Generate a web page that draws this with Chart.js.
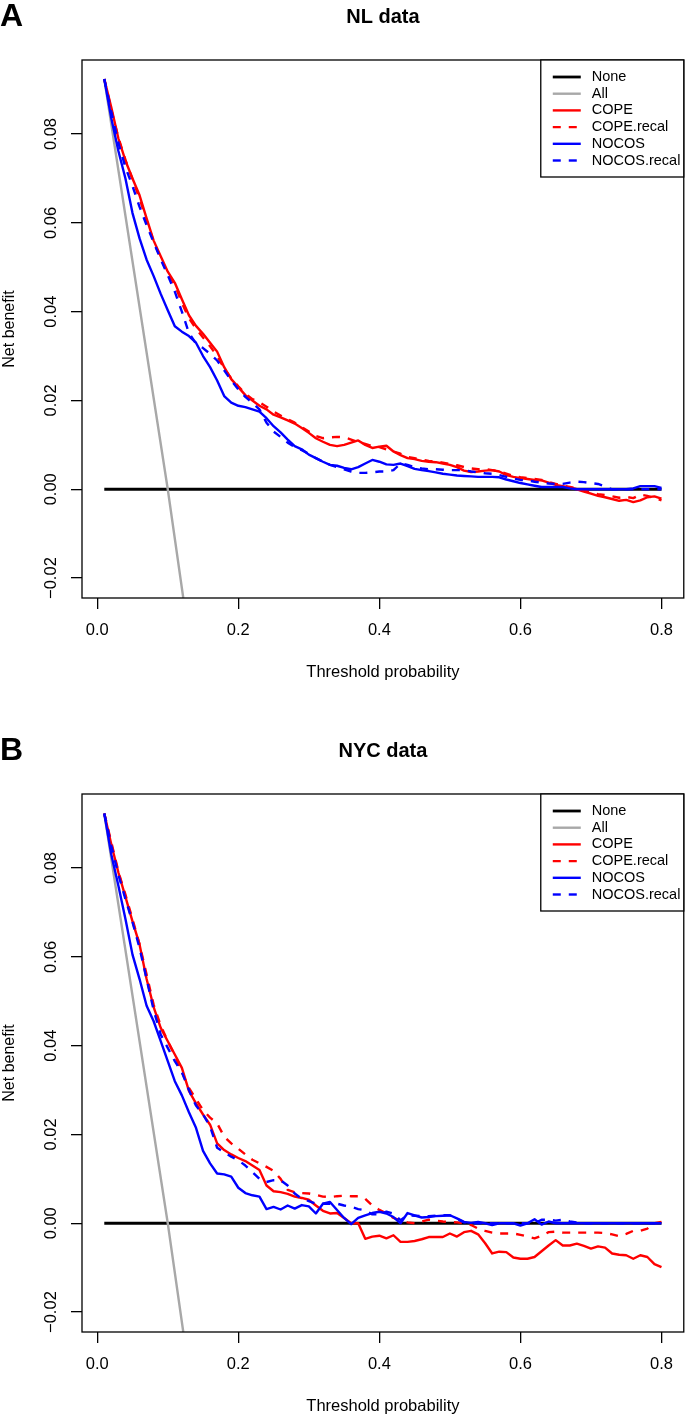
<!DOCTYPE html>
<html>
<head>
<meta charset="utf-8">
<title>Net benefit curves</title>
<script src="https://cdn.jsdelivr.net/npm/chart.js@4.4.0/dist/chart.umd.min.js"></script>
<style>
  body { margin: 0; background: #fff; }
  canvas { display: block; }
</style>
</head>
<body>
<canvas id="panelA" width="685" height="734"></canvas>
<canvas id="panelB" width="685" height="682"></canvas>
<script>
// threshold grid (x values of the model curves)
const thresholds = [0.01, 0.02, 0.03, 0.04, 0.05, 0.06, 0.07, 0.08, 0.09, 0.10,
  0.11, 0.12, 0.13, 0.14, 0.15, 0.16, 0.17, 0.18, 0.19, 0.20,
  0.21, 0.22, 0.23, 0.24, 0.25, 0.26, 0.27, 0.28, 0.29, 0.30,
  0.31, 0.32, 0.33, 0.34, 0.35, 0.36, 0.37, 0.38, 0.39, 0.40,
  0.41, 0.42, 0.43, 0.44, 0.45, 0.46, 0.47, 0.48, 0.49, 0.50,
  0.51, 0.52, 0.53, 0.54, 0.55, 0.56, 0.57, 0.58, 0.59, 0.60,
  0.61, 0.62, 0.63, 0.64, 0.65, 0.66, 0.67, 0.68, 0.69, 0.70,
  0.71, 0.72, 0.73, 0.74, 0.75, 0.76, 0.77, 0.78, 0.79, 0.80];

// reference strategies
const noneX = [0.01, 0.80];
const noneY = [0, 0];
const allX = [0.01, 0.10, 0.122];
const nlAll = [0.0924, 0.0, -0.0245];
const nycAll = [0.0923, 0.0, -0.0245];

// NL data
const nlCope = [0.0924, 0.0860, 0.0790, 0.0740, 0.0700, 0.0662, 0.0610, 0.0560, 0.0525, 0.0490,
  0.0465, 0.0428, 0.0392, 0.0368, 0.0350, 0.0330, 0.0310, 0.0275, 0.0248, 0.0230,
  0.0212, 0.0200, 0.0188, 0.0180, 0.0168, 0.0162, 0.0155, 0.0148, 0.0138, 0.0127,
  0.0115, 0.0107, 0.0100, 0.0097, 0.0100, 0.0105, 0.0110, 0.0100, 0.0093, 0.0096,
  0.0098, 0.0085, 0.0077, 0.0070, 0.0068, 0.0064, 0.0062, 0.0061, 0.0058, 0.0055,
  0.0050, 0.0042, 0.0039, 0.0040, 0.0042, 0.0043, 0.0040, 0.0032, 0.0028, 0.0025,
  0.0023, 0.0021, 0.0020, 0.0015, 0.0010, 0.0007, 0.0004, 0.0000, -0.0005, -0.0010,
  -0.0015, -0.0018, -0.0022, -0.0026, -0.0024, -0.0029, -0.0025, -0.0018, -0.0016, -0.0021];
const nlCopeRecal = [0.0924, 0.0855, 0.0792, 0.0742, 0.0698, 0.0655, 0.0605, 0.0558, 0.0520, 0.0487,
  0.0460, 0.0420, 0.0385, 0.0362, 0.0342, 0.0322, 0.0300, 0.0272, 0.0250, 0.0232,
  0.0215, 0.0203, 0.0196, 0.0186, 0.0175, 0.0166, 0.0158, 0.0150, 0.0140, 0.0130,
  0.0120, 0.0115, 0.0117, 0.0118, 0.0117, 0.0112, 0.0106, 0.0102, 0.0097, 0.0095,
  0.0090, 0.0085, 0.0080, 0.0073, 0.0070, 0.0067, 0.0064, 0.0062, 0.0060, 0.0057,
  0.0054, 0.0050, 0.0047, 0.0045, 0.0046, 0.0043, 0.0040, 0.0035, 0.0030, 0.0027,
  0.0025, 0.0023, 0.0021, 0.0016, 0.0012, 0.0008, 0.0005, 0.0002, -0.0003, -0.0007,
  -0.0011, -0.0013, -0.0016, -0.0019, -0.0017, -0.0020, -0.0012, -0.0015, -0.0020, -0.0025];
const nlNocos = [0.0924, 0.0835, 0.0762, 0.0700, 0.0622, 0.0565, 0.0517, 0.0480, 0.0440, 0.0403,
  0.0367, 0.0355, 0.0345, 0.0330, 0.0300, 0.0275, 0.0245, 0.0210, 0.0195, 0.0188,
  0.0185, 0.0180, 0.0175, 0.0160, 0.0142, 0.0128, 0.0112, 0.0097, 0.0090, 0.0078,
  0.0070, 0.0062, 0.0055, 0.0053, 0.0048, 0.0045, 0.0050, 0.0058, 0.0066, 0.0062,
  0.0056, 0.0055, 0.0058, 0.0052, 0.0046, 0.0043, 0.0041, 0.0038, 0.0035, 0.0033,
  0.0031, 0.0030, 0.0029, 0.0028, 0.0028, 0.0028, 0.0027, 0.0022, 0.0018, 0.0014,
  0.0011, 0.0008, 0.0005, 0.0005, 0.0005, 0.0005, 0.0002, 0.0000, 0.0000, 0.0000,
  0.0000, 0.0000, 0.0000, 0.0000, 0.0000, 0.0002, 0.0007, 0.0007, 0.0007, 0.0003];
const nlNocosRecal = [0.0924, 0.0850, 0.0780, 0.0725, 0.0683, 0.0636, 0.0595, 0.0556, 0.0518, 0.0482,
  0.0445, 0.0400, 0.0352, 0.0328, 0.0318, 0.0305, 0.0290, 0.0268, 0.0245, 0.0225,
  0.0208, 0.0195, 0.0180, 0.0150, 0.0130, 0.0118, 0.0105, 0.0095, 0.0088, 0.0080,
  0.0070, 0.0062, 0.0055, 0.0050, 0.0045, 0.0040, 0.0037, 0.0037, 0.0038, 0.0040,
  0.0040, 0.0043, 0.0058, 0.0055, 0.0050, 0.0047, 0.0045, 0.0045, 0.0044, 0.0043,
  0.0043, 0.0043, 0.0040, 0.0038, 0.0036, 0.0035, 0.0032, 0.0028, 0.0024, 0.0021,
  0.0020, 0.0017, 0.0015, 0.0013, 0.0012, 0.0012, 0.0015, 0.0017, 0.0016, 0.0014,
  0.0012, 0.0006, 0.0000, 0.0000, 0.0000, 0.0000, 0.0000, 0.0000, 0.0000, 0.0000];

// NYC data
const nycCope = [0.0923, 0.0853, 0.0790, 0.0735, 0.0680, 0.0628, 0.0550, 0.0487, 0.0440, 0.0410,
  0.0380, 0.0350, 0.0298, 0.0270, 0.0245, 0.0222, 0.0180, 0.0165, 0.0155, 0.0147,
  0.0140, 0.0130, 0.0120, 0.0085, 0.0072, 0.0070, 0.0066, 0.0060, 0.0057, 0.0053,
  0.0040, 0.0028, 0.0022, 0.0023, 0.0012, 0.0000, 0.0000, -0.0035, -0.0030, -0.0028,
  -0.0034, -0.0027, -0.0042, -0.0042, -0.0040, -0.0036, -0.0031, -0.0031, -0.0031, -0.0023,
  -0.0030, -0.0020, -0.0017, -0.0025, -0.0045, -0.0068, -0.0064, -0.0065, -0.0077, -0.0080,
  -0.0080, -0.0076, -0.0063, -0.0050, -0.0038, -0.0050, -0.0050, -0.0046, -0.0051, -0.0057,
  -0.0052, -0.0055, -0.0068, -0.0071, -0.0072, -0.0080, -0.0072, -0.0076, -0.0092, -0.0099];
const nycCopeRecal = [0.0923, 0.0858, 0.0792, 0.0740, 0.0685, 0.0628, 0.0560, 0.0492, 0.0445, 0.0410,
  0.0378, 0.0340, 0.0305, 0.0280, 0.0255, 0.0238, 0.0225, 0.0195, 0.0180, 0.0168,
  0.0155, 0.0143, 0.0135, 0.0127, 0.0118, 0.0100, 0.0075, 0.0070, 0.0068, 0.0067,
  0.0064, 0.0060, 0.0059, 0.0061, 0.0062, 0.0061, 0.0061, 0.0055, 0.0040, 0.0030,
  0.0022, 0.0012, 0.0006, 0.0002, 0.0000, 0.0004, 0.0008, 0.0006, 0.0004, 0.0003,
  0.0002, 0.0000, -0.0004, -0.0012, -0.0017, -0.0021, -0.0023, -0.0023, -0.0023, -0.0026,
  -0.0030, -0.0034, -0.0028, -0.0020, -0.0019, -0.0021, -0.0021, -0.0021, -0.0021, -0.0021,
  -0.0021, -0.0022, -0.0025, -0.0029, -0.0024, -0.0017, -0.0017, -0.0012, 0.0000, 0.0003];
const nycNocos = [0.0923, 0.0830, 0.0760, 0.0685, 0.0605, 0.0550, 0.0490, 0.0455, 0.0410, 0.0365,
  0.0320, 0.0288, 0.0250, 0.0215, 0.0163, 0.0135, 0.0112, 0.0110, 0.0105, 0.0080,
  0.0068, 0.0063, 0.0060, 0.0032, 0.0037, 0.0031, 0.0040, 0.0033, 0.0041, 0.0038,
  0.0022, 0.0044, 0.0048, 0.0030, 0.0012, -0.0002, 0.0012, 0.0018, 0.0023, 0.0026,
  0.0022, 0.0014, 0.0000, 0.0023, 0.0018, 0.0013, 0.0014, 0.0016, 0.0017, 0.0018,
  0.0011, 0.0003, 0.0001, 0.0003, 0.0000, -0.0004, 0.0000, 0.0000, 0.0000, -0.0005,
  0.0000, 0.0009, -0.0003, 0.0004, 0.0000, 0.0000, 0.0000, 0.0000, 0.0000, 0.0000,
  0.0000, 0.0000, 0.0000, 0.0000, 0.0000, 0.0000, 0.0000, 0.0000, 0.0000, 0.0000];
const nycNocosRecal = [0.0923, 0.0850, 0.0785, 0.0730, 0.0678, 0.0620, 0.0550, 0.0480, 0.0425, 0.0395,
  0.0365, 0.0340, 0.0300, 0.0265, 0.0245, 0.0218, 0.0170, 0.0160, 0.0150, 0.0142,
  0.0130, 0.0115, 0.0100, 0.0093, 0.0097, 0.0097, 0.0085, 0.0067, 0.0055, 0.0050,
  0.0044, 0.0044, 0.0044, 0.0044, 0.0040, 0.0037, 0.0032, 0.0029, 0.0020, 0.0020,
  0.0026, 0.0022, 0.0007, 0.0018, 0.0017, 0.0016, 0.0016, 0.0017, 0.0018, 0.0018,
  0.0010, 0.0002, 0.0000, 0.0000, 0.0000, 0.0000, 0.0000, 0.0000, 0.0000, 0.0000,
  0.0000, 0.0000, 0.0008, 0.0008, 0.0006, 0.0008, 0.0004, 0.0002, 0.0000, 0.0000,
  0.0000, 0.0000, 0.0000, 0.0000, 0.0000, 0.0000, 0.0000, 0.0000, 0.0000, 0.0000];

// axes
const xTicks = [0, 0.2, 0.4, 0.6, 0.8];
const yTicks = [-0.02, 0, 0.02, 0.04, 0.06, 0.08];

const FONT = "'Liberation Sans', Arial, Helvetica, sans-serif";

function pts(xs, ys) {
  return xs.map((x, i) => ({ x: x, y: ys[i] }));
}

// box, rotated y labels, legend and panel letter
const framePlugin = {
  id: 'frame',
  afterDraw(chart) {
    const ctx = chart.ctx;
    const a = chart.chartArea;
    const yScale = chart.scales.y;
    ctx.save();
    ctx.strokeStyle = '#000';
    ctx.lineWidth = 1.3;
    ctx.strokeRect(a.left, a.top, a.right - a.left, a.bottom - a.top);

    // y tick labels, rotated like R's default axis labels
    ctx.fillStyle = '#000';
    ctx.font = '16.5px ' + FONT;
    ctx.textAlign = 'center';
    ctx.textBaseline = 'middle';
    yTicks.forEach(v => {
      const py = yScale.getPixelForValue(v);
      ctx.save();
      ctx.translate(51, py);
      ctx.rotate(-Math.PI / 2);
      ctx.fillText(v < 0 ? '\u2212' + Math.abs(v).toFixed(2) : v.toFixed(2), 0, 0);
      ctx.restore();
    });

    // legend
    const lx = a.right - 143, ly = a.top, lw = 143, lh = 117;
    ctx.fillStyle = '#fff';
    ctx.fillRect(lx, ly, lw, lh);
    ctx.strokeStyle = '#000';
    ctx.lineWidth = 1.3;
    ctx.strokeRect(lx, ly, lw, lh);
    ctx.font = '14.5px ' + FONT;
    ctx.textAlign = 'left';
    chart.data.datasets.forEach((ds, i) => {
      const y = ly + 17 + i * 16.7;
      ctx.beginPath();
      ctx.strokeStyle = ds.borderColor;
      ctx.lineWidth = ds.borderWidth;
      ctx.setLineDash(ds.borderDash || []);
      ctx.moveTo(lx + 12, y);
      ctx.lineTo(lx + 40, y);
      ctx.stroke();
      ctx.setLineDash([]);
      ctx.fillStyle = '#000';
      ctx.fillText(ds.label, lx + 51, y);
    });

    // panel letter
    ctx.font = 'bold 32px ' + FONT;
    ctx.textBaseline = 'alphabetic';
    ctx.fillText(chart.options.panelLetter, 0, 26);
    ctx.restore();
  }
};

function buildPanel(id, letter, title, allY, cope, copeRecal, nocos, nocosRecal, xAxisHeight, xTitlePad) {
  const base = { pointRadius: 0, borderWidth: 2.4, tension: 0, fill: false, borderJoinStyle: 'round' };
  return new Chart(document.getElementById(id), {
    type: 'line',
    data: {
      datasets: [
        Object.assign({}, base, { label: 'None', data: pts(noneX, noneY), borderColor: '#000000', borderWidth: 2.8, order: 6 }),
        Object.assign({}, base, { label: 'All', data: pts(allX, allY), borderColor: '#a8a8a8', order: 5 }),
        Object.assign({}, base, { label: 'COPE', data: pts(thresholds, cope), borderColor: '#ff0000', order: 4 }),
        Object.assign({}, base, { label: 'COPE.recal', data: pts(thresholds, copeRecal), borderColor: '#ff0000', borderDash: [8, 8], order: 3 }),
        Object.assign({}, base, { label: 'NOCOS', data: pts(thresholds, nocos), borderColor: '#0000ff', order: 2 }),
        Object.assign({}, base, { label: 'NOCOS.recal', data: pts(thresholds, nocosRecal), borderColor: '#0000ff', borderDash: [8, 8], order: 1 })
      ]
    },
    options: {
      panelLetter: letter,
      responsive: false,
      animation: false,
      layout: { padding: { top: 0, right: 1, left: 0, bottom: 0 } },
      plugins: {
        legend: { display: false },
        tooltip: { enabled: false },
        title: {
          display: true,
          text: title,
          fullSize: false,
          color: '#000',
          font: { family: FONT, size: 20, weight: 'bold', lineHeight: 1.2 },
          padding: { top: 5, bottom: 31 }
        }
      },
      scales: {
        x: {
          type: 'linear',
          min: -0.0216,
          max: 0.8316,
          afterBuildTicks: s => { s.ticks = xTicks.map(v => ({ value: v })); },
          afterFit: s => { s.height = xAxisHeight; },
          border: { display: false },
          grid: { drawOnChartArea: false, drawTicks: true, tickLength: 11, color: '#000', lineWidth: 1.3 },
          ticks: {
            autoSkip: false, maxRotation: 0, padding: 12, color: '#000',
            font: { family: FONT, size: 16.5 },
            callback: v => v.toFixed(1)
          },
          title: {
            display: true, text: 'Threshold probability', color: '#000',
            font: { family: FONT, size: 16.5, lineHeight: 1.2 },
            padding: { top: 0, bottom: xTitlePad }
          }
        },
        y: {
          type: 'linear',
          min: -0.02449,
          max: 0.09668,
          afterBuildTicks: s => { s.ticks = yTicks.map(v => ({ value: v })); },
          afterFit: s => { s.width = 82; },
          border: { display: false },
          grid: { drawOnChartArea: false, drawTicks: true, tickLength: 11, color: '#000', lineWidth: 1.3 },
          ticks: { display: false },
          title: {
            display: true, text: 'Net benefit', color: '#000',
            font: { family: FONT, size: 16, lineHeight: 1.2 },
            padding: { top: 0.4, bottom: 0 }
          }
        }
      }
    },
    plugins: [framePlugin]
  });
}

buildPanel('panelA', 'A', 'NL data', nlAll, nlCope, nlCopeRecal, nlNocos, nlNocosRecal, 136, 52.1);
buildPanel('panelB', 'B', 'NYC data', nycAll, nycCope, nycCopeRecal, nycNocos, nycNocosRecal, 84, 0.1);
</script>
</body>
</html>
